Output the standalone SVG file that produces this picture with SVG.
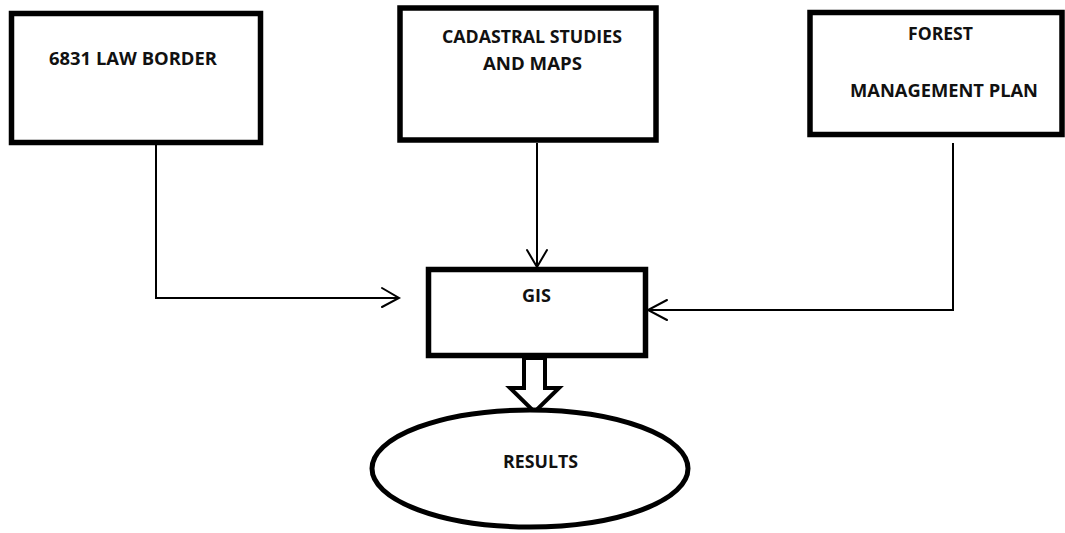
<svg xmlns="http://www.w3.org/2000/svg" width="1065" height="533" viewBox="0 0 1065 533">
<style>
.box{fill:#fff;stroke:#000;stroke-width:5.5}
.lbl{font-family:"Open Sans","Liberation Sans",sans-serif;font-weight:700;font-size:17px;fill:#111}
.con{fill:none;stroke:#000;stroke-width:2}
.head{fill:none;stroke:#000;stroke-width:2;stroke-linecap:round;stroke-linejoin:miter}
</style>
<rect width="1065" height="533" fill="#fff"/>
<g id="connectors">
<polyline class="con" points="156,145 156,298 398,298"/>
<polyline class="head" points="382,288 399,298 382,307"/>
<line class="con" x1="537" y1="143" x2="537" y2="266"/>
<polyline class="head" points="527,250 537,267 547,250"/>
<polyline class="con" points="953,143 953,310 649,310"/>
<polyline class="head" points="667,300 648,310 667,320"/>
<polygon points="524,358 545,358 545,388 559,388 534.5,412 510,388 524,388" fill="#fff" stroke="#000" stroke-width="4" stroke-linejoin="miter"/>
</g>
<g id="law">
<rect class="box" x="11.5" y="13.5" width="249" height="129"/>
<text class="lbl" x="49" y="65" textLength="168" lengthAdjust="spacingAndGlyphs">6831 LAW BORDER</text>
</g>
<g id="cadastral">
<rect class="box" x="400" y="8" width="256" height="132"/>
<text class="lbl" x="442" y="43" textLength="180" lengthAdjust="spacingAndGlyphs">CADASTRAL STUDIES</text>
<text class="lbl" x="483" y="70" textLength="99" lengthAdjust="spacingAndGlyphs">AND MAPS</text>
</g>
<g id="forest">
<rect class="box" x="810" y="12.5" width="252" height="122"/>
<text class="lbl" x="908" y="40" textLength="65" lengthAdjust="spacingAndGlyphs">FOREST</text>
<text class="lbl" x="850" y="97" textLength="188" lengthAdjust="spacingAndGlyphs">MANAGEMENT PLAN</text>
</g>
<g id="gis">
<rect class="box" x="428.5" y="269.5" width="217" height="86"/>
<text class="lbl" x="522" y="302" textLength="29" lengthAdjust="spacingAndGlyphs">GIS</text>
</g>
<g id="results">
<ellipse cx="530" cy="468.5" rx="158" ry="58.5" fill="#fff" stroke="#000" stroke-width="5"/>
<text class="lbl" x="503" y="468" textLength="75" lengthAdjust="spacingAndGlyphs">RESULTS</text>
</g>
</svg>
